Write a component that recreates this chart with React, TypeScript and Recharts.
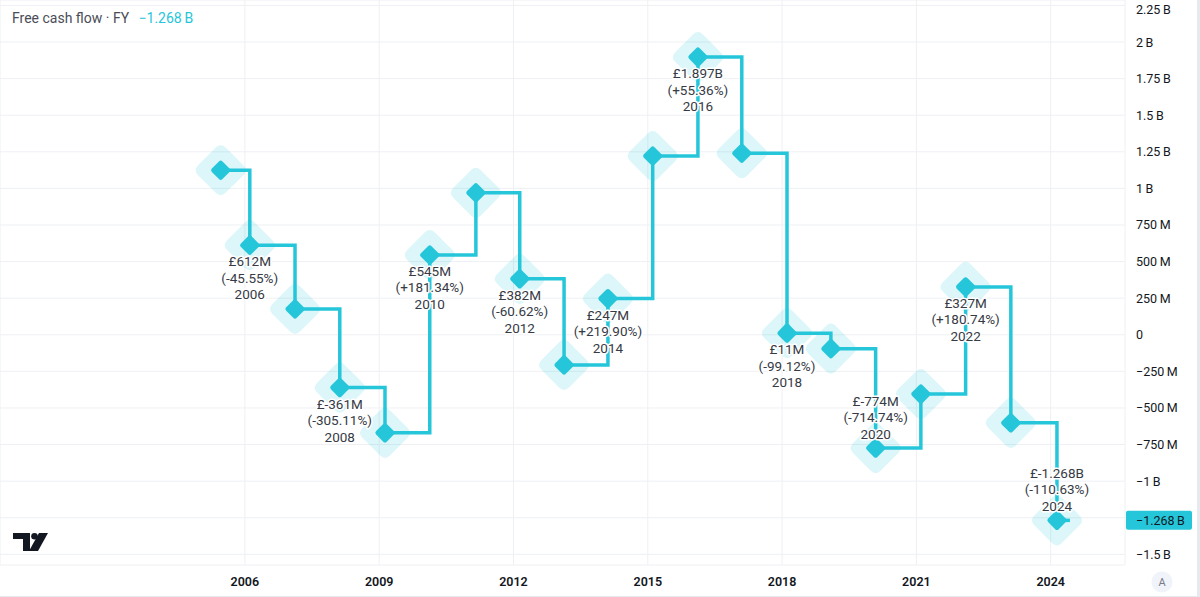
import { ComposedChart, Line, XAxis, YAxis, CartesianGrid, ReferenceLine } from 'recharts';

// fiscal years and the date (decimal year) each period closes on
const years = [2005, 2006, 2007, 2008, 2009, 2010, 2011, 2012, 2013, 2014, 2015, 2016, 2017, 2018, 2019, 2020, 2021, 2022, 2023, 2024];
const periodEnd = [2005.46, 2006.11, 2007.12, 2008.12, 2009.13, 2010.13, 2011.16, 2012.14, 2013.13, 2014.11, 2015.11, 2016.12, 2017.1, 2018.11, 2019.09, 2020.09, 2021.1, 2022.1, 2023.11, 2024.14];
// free cash flow, £ millions
const fcf = [1124, 612, 176, -361, -670, 545, 970, 382, -206, 247, 1221, 1897, 1240, 11, -95, -774, -405, 327, -602, -1268];
// year-on-year change shown on the labelled points
const changePct = [null, -45.55, null, -305.11, null, 181.34, null, -60.62, null, 219.9, null, 55.36, null, -99.12, null, -714.74, null, 180.74, null, -110.63];

const yTicks = [-1500, -1250, -1000, -750, -500, -250, 0, 250, 500, 750, 1000, 1250, 1500, 1750, 2000, 2250];
const xTicks = [2006, 2009, 2012, 2015, 2018, 2021, 2024];
const lastValue = -1268;

const CYAN = '#26C6DA';
const FONT = "Roboto, 'Noto Sans', sans-serif";

const data = years.map((y, i) => ({ year: y, t: periodEnd[i], v: fcf[i], chg: changePct[i] }));

const fmtMoney = (v: number) => (Math.abs(v) >= 1000 ? `£${(v / 1000).toFixed(3)}B` : `£${v}M`);
const fmtPct = (p: number) => `(${p > 0 ? '+' : ''}${p.toFixed(2)}%)`;

const fmtAxis = (v: number) => {
  if (v === 0) return '0';
  const sign = v < 0 ? '\u2212' : '';
  const a = Math.abs(v);
  if (a >= 1000) return `${sign}${+(a / 1000).toFixed(2)}\u2009B`;
  return `${sign}${a}\u2009M`;
};

// the price tag covers the -1.25 B label, so that one is left out
const YTick = (props: any) => {
  const { x, y, payload } = props;
  if (Math.abs(payload.value - lastValue) < 60) return <g />;
  return (
    <text x={x} y={y + 4.5} fontFamily={FONT} fontSize={12.5} fill="#131722" textAnchor="start">
      {fmtAxis(payload.value)}
    </text>
  );
};

// rounded square turned 45 degrees
const diamondPath = (s: number, r: number) => {
  const h = s / 2;
  return `M${-h + r},${-h} H${h - r} Q${h},${-h} ${h},${-h + r} V${h - r} Q${h},${h} ${h - r},${h} H${-h + r} Q${-h},${h} ${-h},${h - r} V${-h + r} Q${-h},${-h} ${-h + r},${-h} Z`;
};

const Halo = (props: any) => {
  const { cx, cy, index } = props;
  if (cx == null || cy == null) return <g key={`h${index}`} />;
  return (
    <path
      key={`h${index}`}
      d={diamondPath(39, 7)}
      transform={`translate(${cx},${cy}) rotate(45)`}
      fill={CYAN}
      fillOpacity={0.16}
    />
  );
};

const Marker = (props: any) => {
  const { cx, cy, index } = props;
  if (cx == null || cy == null) return <g key={`m${index}`} />;
  const last = index === data.length - 1;
  return (
    <g key={`m${index}`}>
      {last && <line x1={cx} y1={cy} x2={cx + 13} y2={cy} stroke={CYAN} strokeWidth={3.5} />}
      <path d={diamondPath(15, 2.5)} transform={`translate(${cx},${cy}) rotate(45)`} fill={CYAN} />
    </g>
  );
};

const PointLabel = (props: any) => {
  const { cx, cy, index, payload } = props;
  if (cx == null || cy == null || payload.chg == null) return <g key={`l${index}`} />;
  const above = payload.v < -700;
  const base = above ? [-42.5, -26, -9.5] : [21, 37.5, 54];
  const lines = [fmtMoney(payload.v), fmtPct(payload.chg), String(payload.year)];
  return (
    <g key={`l${index}`}>
      {lines.map((txt, i) => (
        <text
          key={i}
          x={cx}
          y={cy + base[i]}
          textAnchor="middle"
          fontFamily={FONT}
          fontSize={13.5}
          fill="#363a45"
          stroke="#ffffff"
          strokeWidth={3}
          strokeLinejoin="round"
          style={{ paintOrder: 'stroke' }}
        >
          {txt}
        </text>
      ))}
    </g>
  );
};

const PriceTag = (props: any) => {
  const vb = props.viewBox || {};
  const x = (vb.x || 0) + (vb.width || 0) + 1;
  const y = vb.y || 0;
  return (
    <g>
      <rect x={x} y={y - 9.5} width={66} height={19} rx={2} fill={CYAN} />
      <text x={x + 10} y={y + 4.5} fontFamily={FONT} fontSize={12.5} fill="#131722">
        {'\u22121.268\u2009B'}
      </text>
    </g>
  );
};

export default function App() {
  return (
    <div
      style={{
        position: 'absolute',
        left: 0,
        top: 0,
        width: 1200,
        height: 597,
        background: '#ffffff',
        fontFamily: FONT,
        overflow: 'hidden',
      }}
    >
      <ComposedChart width={1200} height={597} data={data} margin={{ top: 0, right: 0, bottom: 0, left: 0 }}>
        <CartesianGrid stroke="#eef0f4" strokeWidth={1} />
        <XAxis
          dataKey="t"
          type="number"
          domain={[2000.53, 2025.66]}
          ticks={xTicks}
          tickFormatter={(v) => String(v)}
          axisLine={false}
          tickLine={false}
          tickSize={0}
          tickMargin={12}
          height={32}
          tick={{ fill: '#131722', fontSize: 12.5, fontFamily: FONT, fontWeight: 600 }}
        />
        <YAxis
          orientation="right"
          type="number"
          domain={[-1573, 2287]}
          ticks={yTicks}
          axisLine={false}
          tickLine={false}
          tickSize={0}
          tickMargin={11}
          width={75}
          tick={<YTick />}
        />
        <ReferenceLine y={lastValue} stroke="none" label={<PriceTag />} />
        <Line dataKey="v" stroke="none" dot={Halo} activeDot={false} isAnimationActive={false} />
        <Line dataKey="v" type="stepAfter" stroke={CYAN} strokeWidth={3.5} dot={false} activeDot={false} isAnimationActive={false} />
        <Line dataKey="v" stroke="none" dot={Marker} activeDot={false} isAnimationActive={false} />
        <Line dataKey="v" stroke="none" dot={PointLabel} activeDot={false} isAnimationActive={false} />
      </ComposedChart>

      <div style={{ position: 'absolute', left: 12, top: 10, fontSize: 14, color: '#4a4d57', whiteSpace: 'nowrap' }}>
        Free cash flow · FY <span style={{ color: CYAN, marginLeft: 6 }}>{'\u22121.268\u2009B'}</span>
      </div>

      <svg style={{ position: 'absolute', left: 13, top: 533 }} width={36} height={19} viewBox="0 0 36 19">
        <path d="M0 0 H17 V18 H10 V6 H0 Z" fill="#131722" />
        <circle cx={21.5} cy={3.3} r={3.3} fill="#131722" />
        <path d="M26 0 H35 L25 18 H16 Z" fill="#131722" />
      </svg>

      <svg style={{ position: 'absolute', left: 1151, top: 571 }} width={22} height={22}>
        <circle cx={11} cy={11} r={10.5} fill="#f0f3fa" />
        <text x={11} y={15} textAnchor="middle" fontFamily={FONT} fontSize={11} fill="#787b86">A</text>
      </svg>

      <div style={{ position: 'absolute', left: 0, top: 596, width: 1200, height: 1, background: '#e6e9ee' }} />
      <div style={{ position: 'absolute', left: 1197, top: 0, width: 3, height: 597, background: '#e6e9ee' }} />
    </div>
  );
}
